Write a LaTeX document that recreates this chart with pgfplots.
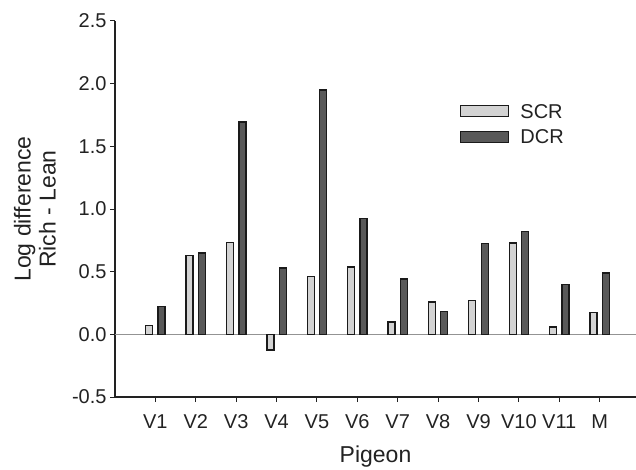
\documentclass[border=0pt]{standalone}
\usepackage{pgfplots}
\pgfplotsset{compat=1.18}
\usepackage{fontspec}
\setmainfont{Liberation Sans}
\definecolor{scr}{HTML}{D3D3D3}
\definecolor{dcr}{HTML}{595959}
\definecolor{edge}{HTML}{1A1A1A}
\definecolor{txt}{HTML}{222222}
\newcommand{\bigf}{\fontsize{20pt}{24pt}\selectfont}
\newcommand{\labf}{\fontsize{23pt}{25pt}\selectfont}
\begin{document}
\begin{tikzpicture}[font=\bigf, text=txt]
\useasboundingbox (0,0) rectangle (636pt,469pt);
\begin{axis}[
  at={(115pt,72pt)}, anchor=south west,
  scale only axis, width=521pt, height=376pt,
  xmin=-1, xmax=11.9, ymin=-0.5, ymax=2.5,
  axis x line*=bottom, axis y line*=left,
  axis line style={txt, line width=1.2pt, -},
  xtick={0,...,11},
  xticklabels={V1,V2,V3,V4,V5,V6,V7,V8,V9,V10,V11,M},
  xticklabel style={yshift=-9pt},
  ytick={-0.5,0,0.5,1,1.5,2,2.5},
  yticklabel style={/pgf/number format/.cd, fixed, fixed zerofill, precision=1},
  /pgf/number format/assume math mode=true,
  tick label style={font=\bigf},
  tick align=outside, major tick length=5pt,
  tick style={txt, line width=1pt},
  xlabel={Pigeon},
  xlabel style={font=\labf, at={(axis description cs:0.5,-0.1755)}, anchor=base},
  ylabel={Log difference\\Rich - Lean},
  ylabel style={font=\labf, align=center, at={(axis description cs:-0.1536,0.5)}, anchor=center},
  extra y ticks={0}, extra y tick labels={},
  extra y tick style={grid=major, major grid style={gray!85, line width=1.5pt}, tick style={draw=none}},
  legend style={draw=none, fill=none, at={(axis description cs:0.662,0.779)}, anchor=north west, font=\bigf,
    inner sep=0pt, column sep=11pt, row sep=11.5pt, nodes={inner sep=0pt, anchor=west, text height=14pt, text depth=0pt}},
  legend cell align=left,
  legend image code/.code={\draw[#1] (0pt,-5.5pt) rectangle (48pt,5.5pt);},
]
\addplot[ybar, bar width=7pt, bar shift=-6.2pt, fill=scr, draw=edge, line width=1.3pt]
  coordinates {(0,0.07) (1,0.627) (2,0.735) (3,-0.124) (4,0.463) (5,0.537) (6,0.098) (7,0.259) (8,0.272) (9,0.728) (10,0.058) (11,0.172)};
\addlegendentry{SCR}
\addplot[ybar, bar width=7pt, bar shift=6.2pt, fill=dcr, draw=edge, line width=1.3pt]
  coordinates {(0,0.22) (1,0.65) (2,1.693) (3,0.529) (4,1.95) (5,0.926) (6,0.442) (7,0.18) (8,0.725) (9,0.82) (10,0.40) (11,0.49)};
\addlegendentry{DCR}
\end{axis}
\end{tikzpicture}
\end{document}
